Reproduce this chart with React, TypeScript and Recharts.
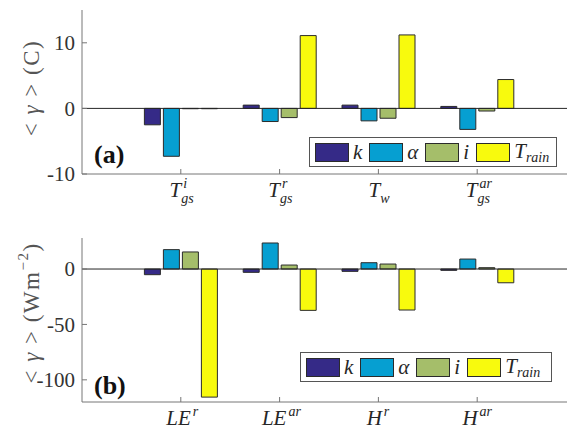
import React from 'react';
import { BarChart, Bar, XAxis, YAxis, ReferenceLine, Legend, Customized } from 'recharts';

// panel (a): temperatures
const topCategories = ['Tgs_i', 'Tgs_r', 'Tw', 'Tgs_ar'];
const topBase = ['T', 'T', 'T', 'T'];
const topSup = ['i', 'r', '', 'ar'];
const topSub = ['gs', 'gs', 'w', 'gs'];
const topK = [-2.5, 0.5, 0.5, 0.3];
const topAlpha = [-7.3, -2.0, -1.9, -3.2];
const topI = [-0.05, -1.4, -1.5, -0.4];
const topTrain = [-0.05, 11.1, 11.2, 4.4];
const topTicks = [-10, 0, 10];

// panel (b): fluxes
const bottomCategories = ['LE_r', 'LE_ar', 'H_r', 'H_ar'];
const bottomBase = ['LE', 'LE', 'H', 'H'];
const bottomSup = ['r', 'ar', 'r', 'ar'];
const bottomSub = ['', '', '', ''];
const bottomK = [-5.1, -3.0, -2.1, -1.2];
const bottomAlpha = [17.5, 23.5, 5.7, 9.0];
const bottomI = [15.4, 3.6, 4.5, 1.2];
const bottomTrain = [-115.6, -37.3, -37.0, -12.4];
const bottomTicks = [-100, -50, 0];

const seriesKeys = ['k', 'alpha', 'i', 'train'];
const seriesColors = ['#352A87', '#069FD1', '#A5BE6A', '#F8FA0D'];

const FONT = 'Liberation Serif, Times New Roman, DejaVu Serif, serif';
const AXIS = '#767676';
const EDGE = '#2b2b2b';

const topData = topCategories.map((name, j) => ({ name, k: topK[j], alpha: topAlpha[j], i: topI[j], train: topTrain[j] }));
const bottomData = bottomCategories.map((name, j) => ({ name, k: bottomK[j], alpha: bottomAlpha[j], i: bottomI[j], train: bottomTrain[j] }));

// rough glyph widths, only used to centre the tick labels
const estW = (s: string, size: number) =>
  s.split('').reduce((w, c) => w + (c === c.toUpperCase() ? 0.62 : c === 'i' ? 0.3 : c === 'w' ? 0.68 : 0.44) * size, 0);

const makeXTick = (base: string[], sup: string[], sub: string[], dy: number) => (props: any) => {
  const { x, y, index } = props;
  const b = base[index], p = sup[index], s = sub[index];
  const scriptW = Math.max(estW(p, 14), estW(s, 14));
  const split = x + (estW(b, 21) - scriptW) / 2;
  return (
    <g style={{ fontFamily: FONT }}>
      <line x1={x} x2={x} y1={y} y2={y - 5} stroke={AXIS} />
      <text x={split} y={y + dy} textAnchor="end" fontStyle="italic" fontSize={21} fill="#262626">{b}</text>
      {p && <text x={split + 2} y={y + dy - 9} fontStyle="italic" fontSize={14} fill="#262626">{p}</text>}
      {s && <text x={split} y={y + dy + 6} fontStyle="italic" fontSize={14} fill="#262626">{s}</text>}
    </g>
  );
};

const TopTick = (props: any) => (
  <line x1={props.x} x2={props.x} y1={props.y} y2={props.y + 5} stroke={AXIS} />
);

const YTick = (props: any) => {
  const { x, y, payload } = props;
  return (
    <g style={{ fontFamily: FONT }}>
      <text x={x} y={y} dy="0.35em" textAnchor="end" fontSize={21} fill="#333">{payload.value}</text>
      <line x1={x + 7} x2={x + 12} y1={y} y2={y} stroke={AXIS} />
    </g>
  );
};

const legendLabel = (j: number) => {
  if (j === 0) return 'k';
  if (j === 1) return 'α';
  if (j === 2) return 'i';
  return (
    <span>T<span style={{ fontSize: 14, position: 'relative', top: 4 }}>rain</span></span>
  );
};

const LegendBox = () => (
  <div style={{
    display: 'flex', alignItems: 'center', border: '1px solid #555', background: '#fff',
    padding: '0 0 0 5px', height: 30, boxSizing: 'border-box',
    fontFamily: FONT, fontStyle: 'italic', fontSize: 21, color: '#262626', lineHeight: '20px',
  }}>
    {seriesKeys.map((key, j) => (
      <div key={key} style={{ display: 'flex', alignItems: 'center', marginRight: 7 }}>
        <div style={{ width: 34, height: 19, background: seriesColors[j], border: `1px solid ${EDGE}`, boxSizing: 'border-box', marginRight: 4 }} />
        <span>{legendLabel(j)}</span>
      </div>
    ))}
  </div>
);

type PanelProps = {
  data: any[];
  base: string[];
  sup: string[];
  sub: string[];
  domain: [number, number];
  ticks: number[];
  marginTop: number;
  axisHeight: number;
  labelDy: number;
  legendLeft: number;
  legendTop: number;
  legendWidth: number;
  yLabel: React.ReactNode;
  yLabelY: number;
  tag: string;
  tagY: number;
};

const Panel = (p: PanelProps) => (
  <BarChart width={600} height={215} data={p.data} margin={{ top: p.marginTop, right: 24, bottom: 0, left: 12 }} barCategoryGap={13} barGap={3}>
    <XAxis dataKey="name" height={p.axisHeight} padding={{ left: 49.4, right: 49.4 }} interval={0}
      tickSize={0} tickMargin={0} tickLine={false} axisLine={{ stroke: AXIS }}
      tick={makeXTick(p.base, p.sup, p.sub, p.labelDy)} />
    <XAxis xAxisId="top" orientation="top" dataKey="name" height={0} padding={{ left: 49.4, right: 49.4 }} interval={0}
      tickSize={0} tickMargin={0} tickLine={false} axisLine={{ stroke: AXIS }} tick={TopTick} />
    <YAxis width={70} domain={p.domain} ticks={p.ticks} interval={0} allowDataOverflow
      tickSize={0} tickMargin={7} tickLine={false} axisLine={{ stroke: AXIS }} tick={YTick} />
    {seriesKeys.map((key, j) => (
      <Bar key={key} dataKey={key} fill={seriesColors[j]} stroke={EDGE} strokeWidth={1} isAnimationActive={false} />
    ))}
    <ReferenceLine y={0} stroke="#262626" />
    <Legend layout="vertical" align="center" verticalAlign="middle" content={LegendBox}
      wrapperStyle={{ left: p.legendLeft, top: p.legendTop, width: p.legendWidth }} />
    <Customized component={() => (
      <g style={{ fontFamily: FONT }}>
        <text transform={`translate(31,${p.yLabelY}) rotate(-90)`} textAnchor="middle" dominantBaseline="central"
          fontSize={23} fill="#555" letterSpacing={1.5}>{p.yLabel}</text>
        <text x={94} y={p.tagY} fontWeight="bold" fontSize={26} fill="#111">{p.tag}</text>
      </g>
    )} />
  </BarChart>
);

export default function App() {
  return (
    <div style={{ position: 'fixed', left: 0, top: 0, width: 567, height: 430, overflow: 'hidden', background: '#fff' }}>
      <div style={{ position: 'absolute', left: 0, top: 0 }}>
        <Panel data={topData} base={topBase} sup={topSup} sub={topSub} domain={[-10, 15]} ticks={topTicks}
          marginTop={10} axisHeight={41} labelDy={23}
          legendLeft={309} legendTop={137} legendWidth={248}
          yLabel={<>{'<  '}<tspan fontStyle="italic">γ</tspan>{'  >  (C)'}</>} yLabelY={88}
          tag="(a)" tagY={163} />
      </div>
      <div style={{ position: 'absolute', left: 0, top: 215 }}>
        <Panel data={bottomData} base={bottomBase} sup={bottomSup} sub={bottomSub} domain={[-120, 28]} ticks={bottomTicks}
          marginTop={23} axisHeight={28} labelDy={23}
          legendLeft={300} legendTop={137} legendWidth={252}
          yLabel={<>{'<  '}<tspan fontStyle="italic">γ</tspan>{'  >  (Wm'}<tspan dy={-8} fontSize={15}>−2</tspan><tspan dy={8}>)</tspan></>}
          yLabelY={98}
          tag="(b)" tagY={179} />
      </div>
    </div>
  );
}
